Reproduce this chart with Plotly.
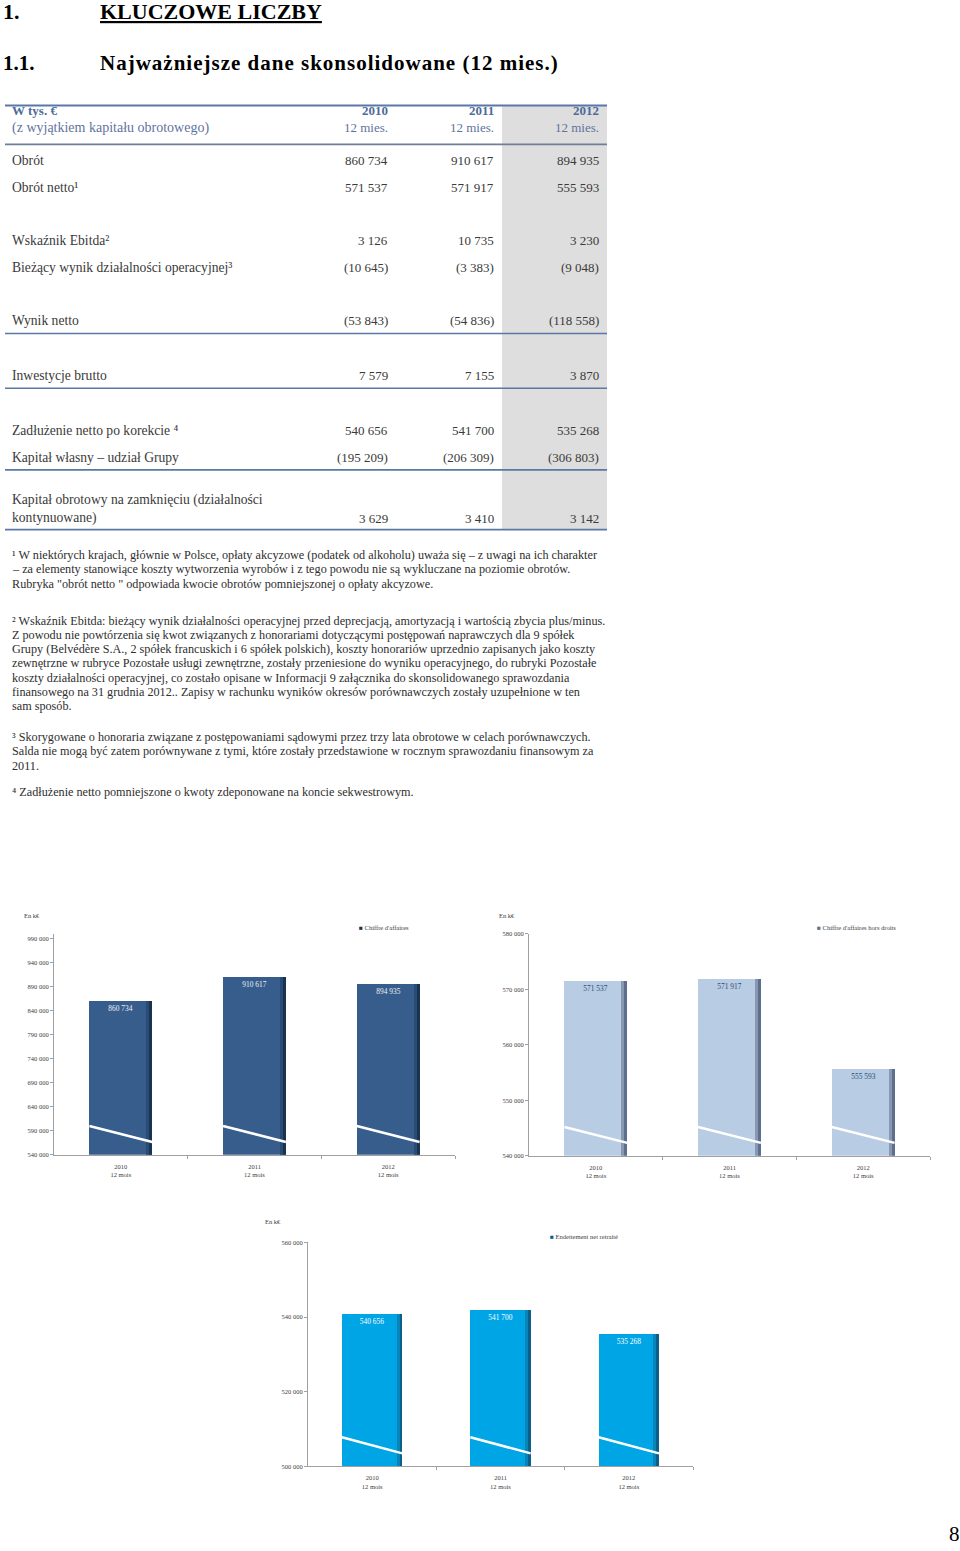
import plotly.graph_objects as go

W, H = 960, 1551
SERIF = "Liberation Serif"

# ---------------- Data ----------------
years = ["2010", "2011", "2012"]
chart_period = "12 mois"
table_period = "12 mies."

table_labels = [
    "Obrót",
    "Obrót netto¹",
    "Wskaźnik Ebitda²",
    "Bieżący wynik działalności operacyjnej³",
    "Wynik netto",
    "Inwestycje brutto",
    "Zadłużenie netto po korekcie ⁴",
    "Kapitał własny – udział Grupy",
    "Kapitał obrotowy na zamknięciu (działalności<br>kontynuowane)",
]
values_2010 = [860734, 571537, 3126, -10645, -53843, 7579, 540656, -195209, 3629]
values_2011 = [910617, 571917, 10735, -3383, -54836, 7155, 541700, -206309, 3410]
values_2012 = [894935, 555593, 3230, -9048, -118558, 3870, 535268, -306803, 3142]

turnover = [860734, 910617, 894935]          # Chiffre d'affaires
net_turnover = [571537, 571917, 555593]      # Chiffre d'affaires hors droits
net_debt = [540656, 541700, 535268]          # Endettement net retraité

footnotes = [
    ["¹ W niektórych krajach, głównie w Polsce, opłaty akcyzowe (podatek od alkoholu) uważa się – z uwagi na ich charakter",
     "– za elementy stanowiące koszty wytworzenia wyrobów i z tego powodu nie są wykluczane na poziomie obrotów.",
     "Rubryka \"obrót netto \" odpowiada kwocie obrotów pomniejszonej o opłaty akcyzowe."],
    ["² Wskaźnik Ebitda: bieżący wynik działalności operacyjnej przed deprecjacją, amortyzacją i wartością zbycia plus/minus.",
     "Z powodu nie powtórzenia się kwot związanych z honorariami dotyczącymi postępowań naprawczych dla 9 spółek",
     "Grupy (Belvédère S.A., 2 spółek francuskich i 6 spółek polskich), koszty honorariów uprzednio zapisanych jako koszty",
     "zewnętrzne w rubryce Pozostałe usługi zewnętrzne, zostały przeniesione do wyniku operacyjnego, do rubryki Pozostałe",
     "koszty działalności operacyjnej, co zostało opisane w Informacji 9 załącznika do skonsolidowanego sprawozdania",
     "finansowego na 31 grudnia 2012.. Zapisy w rachunku wyników okresów porównawczych zostały uzupełnione w ten",
     "sam sposób."],
    ["³ Skorygowane o honoraria związane z postępowaniami sądowymi przez trzy lata obrotowe w celach porównawczych.",
     "Salda nie mogą być zatem porównywane z tymi, które zostały przedstawione w rocznym sprawozdaniu finansowym za",
     "2011."],
    ["⁴ Zadłużenie netto pomniejszone o kwoty zdeponowane na koncie sekwestrowym."],
]


def fmt(v):
    s = f"{abs(v):,}".replace(",", " ")
    return f"({s})" if v < 0 else s


def px_x(x):
    return x / W


def px_y(y):
    return 1 - y / H


# ---------------- Layout constants ----------------
label_y = [160, 187, 240, 267, 321, 376, 431, 458, 510.5]
value_y = [160, 187, 240, 267, 321, 376, 431, 458, 519]
col_right = [388, 494, 599]
row_lines = [331, 386, 468, 528]
footnote_start = [555, 621, 738, 793]
footnote_step = 14.3

TXT = "#3a3a3a"
BLUE_T = "#4d6b9c"
LINE_C = "#5a77a5"

annotations = []
shapes = []


def ann(x, y, text, size=13, color=TXT, xanchor="left", bold=False, family=SERIF, lift=0.2):
    if bold:
        text = f"<b>{text}</b>"
    annotations.append(dict(
        x=px_x(x), y=px_y(y), xref="paper", yref="paper", text=text,
        showarrow=False, xanchor=xanchor, yanchor="middle",
        align=xanchor if xanchor != "center" else "center",
        borderpad=0, borderwidth=0, yshift=lift * size,
        font=dict(family=family, size=size, color=color)))


# ---- Headings ----
ann(3, 12, "1.", size=22, color="#000", bold=True)
ann(100, 12, "<u>KLUCZOWE LICZBY</u>", size=22, color="#000", bold=True)
ann(3, 63, "1.1.", size=21, color="#000", bold=True)
ann(100, 63, "<span style='letter-spacing:1px'>Najważniejsze dane skonsolidowane (12 mies.)</span>",
    size=21, color="#000", bold=True)

# ---- Table ----
shapes.append(dict(type="rect", xref="paper", yref="paper", x0=px_x(502), x1=px_x(607),
                   y0=px_y(528), y1=px_y(102), fillcolor="#dedede", line_width=0, layer="below"))
shapes.append(dict(type="line", xref="paper", yref="paper", x0=px_x(5), x1=px_x(607),
                   y0=px_y(102), y1=px_y(102), line=dict(color=LINE_C, width=2)))
shapes.append(dict(type="line", xref="paper", yref="paper", x0=px_x(5), x1=px_x(607),
                   y0=px_y(141), y1=px_y(141), line=dict(color="#6f7f99", width=1.8)))
for ly in row_lines:
    shapes.append(dict(type="line", xref="paper", yref="paper", x0=px_x(5), x1=px_x(607),
                       y0=px_y(ly), y1=px_y(ly), line=dict(color=LINE_C, width=1.6)))

ann(12, 110, "W tys. €", size=13, color=BLUE_T, bold=True)
ann(12, 127, "(z wyjątkiem kapitału obrotowego)", size=14, color="#5f73a0")
for xr, yr in zip(col_right, years):
    ann(xr, 110, yr, size=13, color=BLUE_T, bold=True, xanchor="right")
    ann(xr, 127, table_period, size=13, color="#5f73a0", xanchor="right")

for i, lab in enumerate(table_labels):
    ann(12, label_y[i], lab, size=13.6)
    for xr, col in zip(col_right, [values_2010, values_2011, values_2012]):
        ann(xr, value_y[i], fmt(col[i]), size=13, xanchor="right")

# ---- Footnotes ----
for start, para in zip(footnote_start, footnotes):
    for j, line in enumerate(para):
        ann(12, start + j * footnote_step, line, size=12.2, color="#2e2e2e", lift=0.12)

# ---- Page number ----
ann(960, 1541, "8", size=21, color="#000", xanchor="right")

# ---------------- Charts ----------------
charts = [
    dict(values=turnover, name="Chiffre d'affaires", color="#375d8c", edge1="#2a4b74", edge2="#1b3352",
         label_color="#eef2f7", x0=54, x1=455, ytop=934, ybot=1156, rng=(540000, 1000000), dtick=50000,
         unit_xy=(24, 916), leg_xy=(359, 927.5)),
    dict(values=net_turnover, name="Chiffre d'affaires hors droits", color="#b8cce4", edge1="#8898b3", edge2="#5e6f8d",
         label_color="#2b4a7a", x0=529, x1=930, ytop=934, ybot=1157, rng=(540000, 580000), dtick=10000,
         unit_xy=(499, 916), leg_xy=(817, 928)),
    dict(values=net_debt, name="Endettement net retraité", color="#00a5e5", edge1="#0a83b9", edge2="#0b5f8a",
         label_color="#ffffff", x0=308, x1=693, ytop=1244, ybot=1469, rng=(500000, 560000), dtick=20000,
         unit_xy=(265, 1223), leg_xy=(550, 1238)),
]

BAR_W = 0.47
EDGE_W = 0.022
SLASH_L, SLASH_R = 0.13, 0.058

fig = go.Figure()
layout_axes = {}
xs = [0, 1, 2]
for n, c in enumerate(charts, start=1):
    xa = "x" if n == 1 else f"x{n}"
    ya = "y" if n == 1 else f"y{n}"
    lo, hi = c["rng"]
    fig.add_trace(go.Bar(
        x=xs, y=c["values"], width=BAR_W, marker=dict(color=c["color"], line_width=0),
        text=[fmt(v) for v in c["values"]], textposition="inside", insidetextanchor="end",
        textfont=dict(family=SERIF, size=7.4, color=c["label_color"]), constraintext="none",
        textangle=0, xaxis=xa, yaxis=ya, showlegend=False, hoverinfo="skip"))
    fig.add_trace(go.Bar(
        x=xs, y=c["values"], width=EDGE_W, offset=BAR_W / 2 - 2 * EDGE_W,
        marker=dict(color=c["edge1"], line_width=0), xaxis=xa, yaxis=ya, showlegend=False, hoverinfo="skip"))
    fig.add_trace(go.Bar(
        x=xs, y=c["values"], width=EDGE_W, offset=BAR_W / 2 - EDGE_W,
        marker=dict(color=c["edge2"], line_width=0), xaxis=xa, yaxis=ya, showlegend=False, hoverinfo="skip"))
    # axis-break slash on each bar
    sx, sy = [], []
    for i in xs:
        sx += [i - BAR_W / 2, i + BAR_W / 2, None]
        sy += [lo + SLASH_L * (hi - lo), lo + SLASH_R * (hi - lo), None]
    fig.add_trace(go.Scatter(x=sx, y=sy, mode="lines", line=dict(color="white", width=2.5),
                             xaxis=xa, yaxis=ya, showlegend=False, hoverinfo="skip", cliponaxis=True))

    axis_font = dict(family=SERIF, size=6.5, color="#404040")
    layout_axes["xaxis" if n == 1 else f"xaxis{n}"] = dict(
        domain=[px_x(c["x0"]), px_x(c["x1"])], anchor=ya, range=[-0.5, 2.5],
        tickmode="array", tickvals=xs, ticktext=[f"{y}<br>{chart_period}" for y in years],
        ticks="", ticklabelstandoff=5, showline=True, linecolor="#a0a0a0", linewidth=1,
        showgrid=False, zeroline=False, tickfont=axis_font, fixedrange=True,
        minor=dict(tickvals=[0.5, 1.5, 2.5], ticks="outside", ticklen=3, tickcolor="#a0a0a0", showgrid=False))
    layout_axes["yaxis" if n == 1 else f"yaxis{n}"] = dict(
        domain=[px_y(c["ybot"]), px_y(c["ytop"])], anchor=xa, range=[lo, hi],
        tick0=lo, dtick=c["dtick"], tickformat=",d", ticks="outside", ticklen=3, tickcolor="#a0a0a0",
        showline=True, linecolor="#a0a0a0", linewidth=1, showgrid=False, zeroline=False,
        tickfont=axis_font, fixedrange=True)

    ux, uy = c["unit_xy"]
    ann(ux, uy, "En k€", size=6.5, color="#404040", lift=0)
    lx, ly = c["leg_xy"]
    ann(lx, ly, f"<span style='color:{c['edge2']}'>■</span> {c['name']}", size=6.5, color="#404040", lift=0)

fig.update_layout(
    width=W, height=H, autosize=False,
    margin=dict(l=0, r=0, t=0, b=0, pad=0),
    paper_bgcolor="white", plot_bgcolor="rgba(0,0,0,0)",
    barmode="overlay", bargap=0, separators=", ",
    annotations=annotations, shapes=shapes,
    font=dict(family=SERIF),
    **layout_axes,
)

fig.write_html("out.html", include_plotlyjs=True, config={"displayModeBar": False},
               post_script="document.body.style.margin='0';document.body.style.overflow='hidden';")
